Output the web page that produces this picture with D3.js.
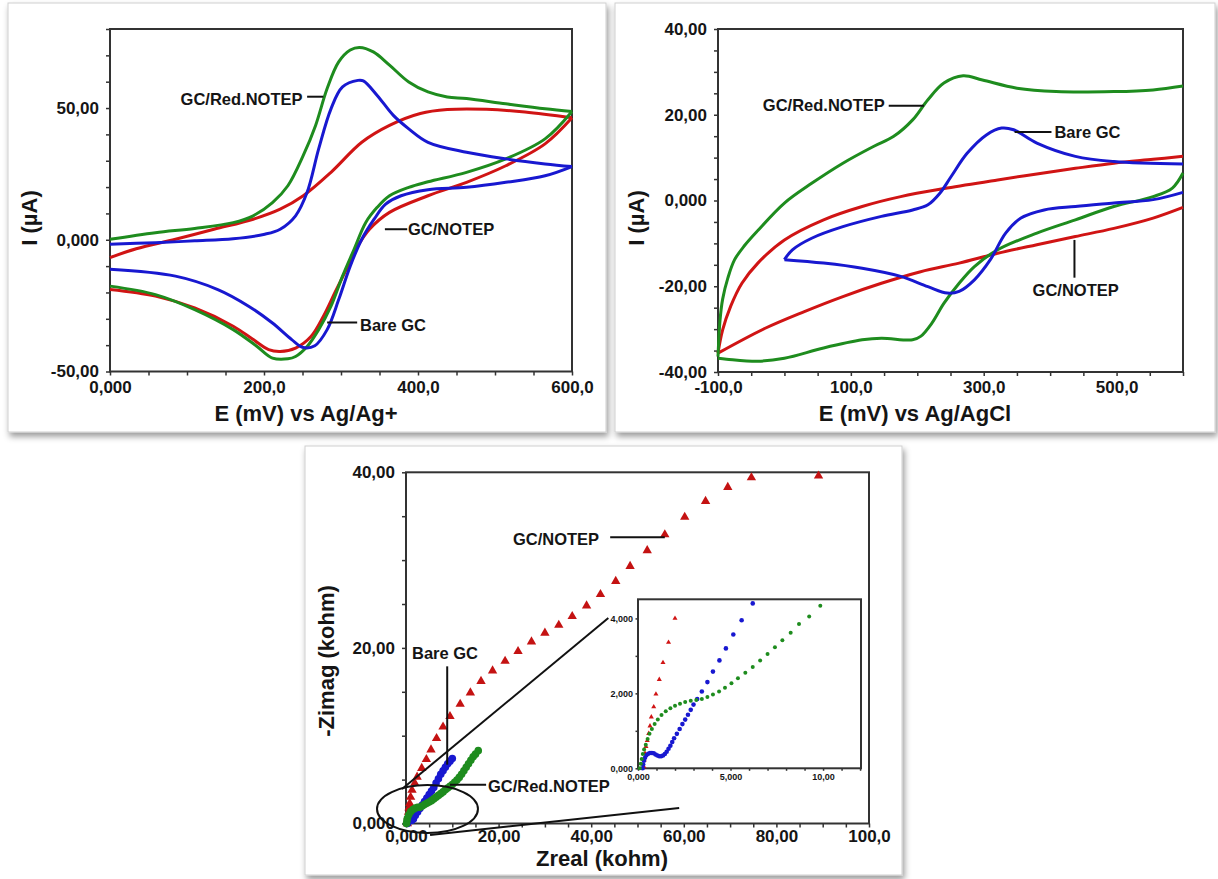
<!DOCTYPE html>
<meta charset="utf-8">
<head>
 <title>CV and EIS</title>
</head>

<style>
body { margin: 0; background: #fff; }
text { font-family: "Liberation Sans", Arial, sans-serif; font-weight: bold; fill: #151515; }
.frame { fill: none; stroke: #333; stroke-width: 2; }
.tick line { stroke: #333; stroke-width: 1.5; }
.lead { stroke: #111; stroke-width: 2; fill: none; }
.cv { fill: none; stroke-width: 3; stroke-linejoin: round; }
</style>

<body>
<svg width="1218" height="879"></svg>

<script src="https://d3js.org/d3.v7.min.js"></script>
<script>
// ---- colours
var GREEN = "#1e8c1e", RED = "#d01414", BLUE = "#1818d0"

// ---- panel A : CV vs Ag/Ag+  [E (mV), I (uA)]
var cvA_red_up = [[0,-6.8],[34,-3.4],[85,0.2],[135,4],[186,7.8],[221,11.6],[251,16.7],[287,25.6],[327,37],[363,43.4],[403,47.9],[438,49.4],[489,49.5],[539,48.5],[600,46.3]]
var cvA_red_down = [[600,46.3],[565,36.4],[514,28.1],[463,21.8],[413,16.7],[363,10.4],[337,4],[322,-2.3],[307,-11.2],[292,-20.1],[277,-29.1],[261,-36.7],[241,-41.1],[221,-42.4],[206,-41.7],[186,-37.9],[160,-32.8],[110,-25.9],[59,-21.4],[0,-18.9]]
var cvA_green_up = [[0,0.2],[59,2.7],[110,4.3],[160,6.5],[186,9.1],[211,14.1],[231,20.5],[251,32],[267,43.4],[282,57.4],[297,67.5],[312,72],[324,73],[342,71.3],[363,66.3],[388,59.9],[413,56.1],[438,54.2],[463,53.6],[514,51.6],[565,49.7],[600,48.7]]
var cvA_green_down = [[600,48.7],[565,38.3],[514,30.7],[463,25.6],[413,22],[388,19.9],[363,16.7],[347,12.3],[332,6.5],[317,-3.6],[302,-13.8],[287,-25.2],[271,-34.1],[256,-40.5],[241,-44.3],[231,-45.2],[211,-44.9],[191,-40.5],[160,-34.1],[110,-26.5],[59,-20.8],[0,-17.6]]
var cvA_blue_up = [[0,-1.7],[59,-1.1],[110,-0.4],[160,0.4],[201,2.1],[221,4],[241,9.1],[256,18],[271,34.5],[287,49.7],[302,58],[322,60.5],[329,60.3],[347,54.8],[368,47.2],[388,42.1],[413,37],[463,33.2],[514,30.7],[565,28.8],[600,27.8]]
var cvA_blue_down = [[600,27.8],[565,24.3],[514,21.8],[463,19.9],[413,19],[378,16.7],[358,13.5],[343,7.8],[327,0.2],[312,-10],[297,-22.7],[282,-34.1],[266,-40.2],[251,-40.9],[236,-37.9],[211,-31.6],[180,-25.2],[140,-18.9],[85,-13.8],[0,-11.2]]

// ---- panel B : CV vs Ag/AgCl
var cvB_red_up = [[-100,-35.6],[-93,-30.2],[-81,-24.7],[-64,-19.3],[-40,-14.6],[0,-9.2],[59,-4.5],[117,-1.4],[175,0.9],[245,2.9],[321,4.8],[380,6.2],[438,7.5],[496,8.7],[555,9.6],[600,10.3]]
var cvB_red_down = [[-100,-35.6],[-29,-29.8],[30,-25.9],[88,-22.4],[146,-19.3],[205,-16.6],[263,-14.6],[321,-12.3],[380,-10.3],[438,-8.4],[496,-6.5],[555,-4.1],[600,-1.6]]
var cvB_green_up = [[-100,-36.4],[-97,-28],[-93,-23],[-85,-18],[-75,-13.8],[-60,-10.5],[-40,-7],[0,-0.6],[41,4],[88,8.7],[134,12.6],[164,14.9],[193,18.8],[216,23.5],[240,27.4],[269,29.1],[298,28.1],[350,26.2],[409,25.4],[496,25.4],[555,25.8],[600,26.7]]
var cvB_green_down = [[600,6.4],[584,2.9],[555,0.9],[496,-1.4],[438,-4.5],[380,-7.6],[321,-11.5],[286,-15.4],[263,-19.3],[240,-24],[222,-28.6],[205,-31.7],[193,-32.5],[146,-32.1],[117,-32.5],[59,-34.4],[0,-36.8],[-40,-37.5],[-87,-37],[-100,-36.8]]
var cvB_blue_up = [[0,-13.8],[12,-11.5],[41,-8.8],[88,-6.1],[146,-3.7],[193,-2.2],[216,-1],[234,1.7],[251,5.6],[275,11],[304,15.3],[327,16.9],[345,16.5],[380,13.4],[438,10.3],[496,9.1],[600,8.5]]
var cvB_blue_down = [[0,-13.8],[59,-14.6],[117,-15.8],[175,-17.7],[216,-20.1],[245,-21.6],[263,-21.2],[286,-18.5],[310,-13.8],[333,-7.6],[356,-4.1],[391,-2.2],[438,-1.4],[496,-0.6],[555,0.2],[600,1.9]]

// ---- panel C : Nyquist  [Zreal, -Zimag] (kohm)
var eis_red = [[0.3,0.0],[0.35,0.4],[0.45,0.8],[0.55,1.3],[0.65,1.8],[0.8,2.3],[1.0,3.0],[1.3,3.8],[1.9,4.6],[2.4,5.3],[3.4,6.3],[4.4,7.3],[5.4,8.4],[6.6,9.7],[8.0,11.0],[9.5,12.2],[11.7,13.6],[13.9,14.9],[16.2,16.2],[18.7,17.4],[21.4,18.5],[24.2,19.6],[27.1,20.7],[30.0,21.7],[33.0,22.6],[35.9,23.6],[39.0,24.8],[42.0,26.1],[45.3,27.6],[48.4,29.3],[52.1,31.1],[55.9,32.9],[60.2,34.9],[64.7,36.7],[69.5,38.3],[74.6,39.4],[89.1,39.6]]
var eis_blue = [[0.3,0],[0.4,0.2],[0.5,0.3],[0.8,0.4],[1.2,0.35],[1.6,0.5],[2.0,0.9],[2.5,1.3],[3.0,1.7],[3.5,2.1],[4.0,2.5],[4.5,2.9],[5.0,3.3],[5.5,3.7],[6.0,4.1],[6.5,4.6],[7.0,5.1],[7.5,5.6],[8.0,6.0],[8.5,6.4],[9.0,6.8],[9.5,7.1],[10.0,7.4]]
var eis_green = [[0.1,0],[0.2,0.3],[0.3,0.6],[0.6,1.0],[1.0,1.35],[1.5,1.6],[2.0,1.75],[2.5,1.85],[3.0,1.85],[3.5,2.0],[4.0,2.15],[4.5,2.3],[5.0,2.45],[5.5,2.6],[6.0,2.8],[6.5,3.0],[7.0,3.2],[7.5,3.4],[8.0,3.6],[8.5,3.85],[9.0,4.05],[9.5,4.25],[10.0,4.45],[10.5,4.7],[11.0,4.95],[11.5,5.25],[12.0,5.6],[12.5,6.0],[13.0,6.4],[13.5,6.8],[14.0,7.2],[14.5,7.6],[15.0,7.9],[15.6,8.3]]

// ---- inset (zoom of the low-impedance region)
var ins_red = [[0.32,0.04],[0.34,0.22],[0.38,0.4],[0.43,0.58],[0.5,0.74],[0.58,0.93],[0.65,1.13],[0.72,1.37],[0.85,1.64],[0.97,1.98],[1.15,2.37],[1.35,2.82],[1.65,3.36],[2.0,4.0]]
var ins_blue = [[0.25,0.0],[0.28,0.1],[0.32,0.2],[0.38,0.28],[0.45,0.35],[0.55,0.39],[0.65,0.41],[0.75,0.41],[0.85,0.4],[0.95,0.37],[1.05,0.34],[1.15,0.32],[1.25,0.32],[1.35,0.34],[1.45,0.38],[1.55,0.44],[1.65,0.52],[1.75,0.6],[1.85,0.7],[1.95,0.8],[2.1,0.92],[2.25,1.05],[2.4,1.18],[2.55,1.3],[2.7,1.43],[2.85,1.56],[3.0,1.7],[3.2,1.85],[3.45,2.05],[3.75,2.3],[4.05,2.58],[4.4,2.88],[4.75,3.2],[5.15,3.57],[5.6,3.95],[6.2,4.4]]
var ins_green = [[0.1,0.0],[0.15,0.12],[0.2,0.25],[0.26,0.38],[0.33,0.5],[0.42,0.63],[0.52,0.78],[0.62,0.92],[0.75,1.05],[0.9,1.18],[1.07,1.3],[1.27,1.42],[1.5,1.52],[1.75,1.6],[2.0,1.67],[2.27,1.72],[2.55,1.77],[2.85,1.8],[3.15,1.82],[3.45,1.85],[3.75,1.9],[4.05,1.97],[4.38,2.05],[4.7,2.15],[5.05,2.27],[5.4,2.4],[5.8,2.55],[6.2,2.7],[6.6,2.88],[7.0,3.05],[7.4,3.23],[7.8,3.42],[8.25,3.62],[8.7,3.85],[9.25,4.05],[9.85,4.34]]

// tick values / labels
var A_xticks = d3.range(0, 601, 50), A_xlabels = [0, 200, 400, 600]
var A_yticks = d3.range(-50, 81, 10), A_ylabels = [-50, 0, 50]
var B_xticks = d3.range(-100, 601, 50), B_xlabels = [-100, 100, 300, 500]
var B_yticks = d3.range(-40, 41, 5), B_ylabels = [-40, -20, 0, 20, 40]
var C_xticks = d3.range(0, 101, 5), C_xlabels = [0, 20, 40, 60, 80, 100]
var C_yticks = d3.range(0, 41, 5), C_ylabels = [0, 20, 40]
var I_xticks = d3.range(0, 13, 1), I_xlabels = [0, 5, 10]
var I_yticks = d3.range(0, 5, 1), I_ylabels = [0, 2, 4]

var fmt = d3.formatLocale({decimal: ",", thousands: ".", grouping: [3], currency: ["", ""], minus: "-"}).format(".4r")

var svg = d3.select("svg")

// drop shadow for the white cards
var filt = svg.append("defs").append("filter").attr("id", "sh")
  .attr("x", "-5%").attr("y", "-5%").attr("width", "115%").attr("height", "115%")
filt.append("feDropShadow").attr("dx", 2).attr("dy", 4).attr("stdDeviation", 3)
  .attr("flood-color", "#000").attr("flood-opacity", 0.4)

var cards = [{x: 8, y: 3, w: 598, h: 429}, {x: 615, y: 3, w: 600, h: 429}, {x: 305, y: 446, w: 597, h: 429}]
svg.selectAll("rect.card").data(cards).join("rect").attr("class", "card")
  .attr("x", d => d.x).attr("y", d => d.y).attr("width", d => d.w).attr("height", d => d.h)
  .attr("fill", "#fff").attr("stroke", "#cfcfcf").attr("filter", "url(#sh)")

// draws ticks (left + bottom) and a closed frame
function axes(x, y, o) {
  var g = svg.append("g")
  g.append("g").attr("transform", "translate(0," + y.range()[0] + ")")
    .call(d3.axisBottom(x).tickValues(o.xt).tickSize(o.ts).tickPadding(o.xpad)
      .tickFormat(d => o.xl.indexOf(d) >= 0 ? fmt(d) : ""))
    .attr("font-size", o.fs)
    .call(a => a.select(".domain").remove())
  g.append("g").attr("transform", "translate(" + x.range()[0] + ",0)")
    .call(d3.axisLeft(y).tickValues(o.yt).tickSize(o.ts).tickPadding(o.pad)
      .tickFormat(d => o.yl.indexOf(d) >= 0 ? fmt(d) : ""))
    .attr("font-size", o.fs)
    .call(a => a.select(".domain").remove())
  g.append("rect").attr("class", "frame").attr("stroke-width", o.sw || 2)
    .attr("x", x.range()[0]).attr("y", y.range()[1])
    .attr("width", x.range()[1] - x.range()[0]).attr("height", y.range()[0] - y.range()[1])
  return g
}

function title(txt, cx, cy, rot) {
  svg.append("text").attr("text-anchor", "middle").attr("font-size", 22)
    .attr("transform", "translate(" + cx + "," + cy + ")" + (rot ? " rotate(-90)" : ""))
    .text(txt)
}

function note(x, y, txt, tx, ty, anchor, lx1, ly1, lx2, ly2) {
  svg.append("line").attr("class", "lead")
    .attr("x1", x(lx1)).attr("y1", y(ly1)).attr("x2", x(lx2)).attr("y2", y(ly2))
  svg.append("text").attr("font-size", 16.5).attr("text-anchor", anchor)
    .attr("dominant-baseline", "central").attr("x", x(tx)).attr("y", y(ty)).text(txt)
}

function cvLine(x, y) {
  return d3.line().x(d => x(d[0])).y(d => y(d[1])).curve(d3.curveCatmullRom.alpha(0.5))
}

// ================= panel A
var xA = d3.scaleLinear().domain([0, 600]).range([110, 572])
var yA = d3.scaleLinear().domain([-50, 80]).range([371.5, 29])
axes(xA, yA, {xt: A_xticks, xl: A_xlabels, yt: A_yticks, yl: A_ylabels, ts: 4, pad: 7, xpad: 5, fs: 17})
var lA = cvLine(xA, yA)
;[[cvA_red_up, RED], [cvA_red_down, RED], [cvA_green_up, GREEN], [cvA_green_down, GREEN],
  [cvA_blue_up, BLUE], [cvA_blue_down, BLUE]].forEach(function(s) {
  svg.append("path").attr("class", "cv").attr("stroke", s[1]).attr("d", lA(s[0]))
})
note(xA, yA, "GC/Red.NOTEP", 250, 53.5, "end", 256, 54.3, 277, 54.3)
note(xA, yA, "GC/NOTEP", 387, 4, "start", 357, 4, 386, 4)
note(xA, yA, "Bare GC", 324.7, -32.2, "start", 282, -31.4, 321, -31.4)
title("E (mV) vs Ag/Ag+", 306, 421)
title("I (µA)", 37, 218, true)

// ================= panel B
var xB = d3.scaleLinear().domain([-100, 600]).range([718, 1183])
var yB = d3.scaleLinear().domain([-40, 40]).range([372, 29])
axes(xB, yB, {xt: B_xticks, xl: B_xlabels, yt: B_yticks, yl: B_ylabels, ts: 4, pad: 7, xpad: 5, fs: 17})
var lB = cvLine(xB, yB)
;[[cvB_red_up, RED], [cvB_red_down, RED], [cvB_green_up, GREEN], [cvB_green_down, GREEN],
  [cvB_blue_up, BLUE], [cvB_blue_down, BLUE]].forEach(function(s) {
  svg.append("path").attr("class", "cv").attr("stroke", s[1]).attr("d", lB(s[0]))
})
note(xB, yB, "GC/Red.NOTEP", 151, 22.3, "end", 157, 22.1, 210, 22.1)
note(xB, yB, "Bare GC", 406.5, 16, "start", 346.5, 16, 402, 16)
note(xB, yB, "GC/NOTEP", 373.6, -20.8, "start", 436.6, -9.2, 436.6, -18)
title("E (mV) vs Ag/AgCl", 915, 421)
title("I (µA)", 644, 218, true)

// ================= panel C
var xC = d3.scaleLinear().domain([0, 100]).range([406, 869])
var yC = d3.scaleLinear().domain([0, 40]).range([823.5, 472.3])
axes(xC, yC, {xt: C_xticks, xl: C_xlabels, yt: C_yticks, yl: C_ylabels, ts: 4, pad: 7, xpad: 2, fs: 17})

var tri = d3.symbol().type(d3.symbolTriangle)
svg.append("g").selectAll("path").data(eis_red).join("path")
  .attr("transform", d => "translate(" + xC(d[0]) + "," + yC(d[1]) + ")")
  .attr("d", tri.size(38)).attr("fill", "#c41212")
svg.append("g").selectAll("circle").data(eis_blue).join("circle")
  .attr("cx", d => xC(d[0])).attr("cy", d => yC(d[1])).attr("r", 3.8).attr("fill", BLUE)
svg.append("g").selectAll("circle").data(eis_green).join("circle")
  .attr("cx", d => xC(d[0])).attr("cy", d => yC(d[1])).attr("r", 3.8).attr("fill", GREEN)

// zoom marker: ellipse round the origin and lines to the inset
svg.append("ellipse").attr("class", "lead").attr("cx", xC(4.64)).attr("cy", yC(1.65))
  .attr("rx", xC(10.9) - xC(0)).attr("ry", yC(0) - yC(2.73))
svg.append("line").attr("class", "lead").attr("x1", xC(-0.86)).attr("y1", yC(3.93)).attr("x2", xC(43.7)).attr("y2", yC(23.4))
svg.append("line").attr("class", "lead").attr("x1", xC(5.2)).attr("y1", yC(-1.3)).attr("x2", xC(59)).attr("y2", yC(1.77))

note(xC, yC, "GC/NOTEP", 23.1, 32.4, "start", 44.1, 32.6, 55.9, 32.6)
note(xC, yC, "Bare GC", 1.3, 19.4, "start", 8.9, 17.9, 8.9, 6.7)
note(xC, yC, "GC/Red.NOTEP", 17.7, 4.3, "start", 9.5, 4.4, 17.3, 4.4)
title("Zreal (kohm)", 602, 866)
title("-Zimag (kohm)", 334, 661, true)

// ================= inset
var xI = d3.scaleLinear().domain([0, 12.05]).range([638, 861])
var yI = d3.scaleLinear().domain([0, 4.51]).range([768.3, 599.3])
svg.append("rect").attr("x", 638).attr("y", 599.3).attr("width", 223).attr("height", 169).attr("fill", "#fff")
axes(xI, yI, {xt: I_xticks, xl: I_xlabels, yt: I_yticks, yl: I_ylabels, ts: 2.5, pad: 2.5, xpad: 2.5, fs: 9, sw: 1.5})
svg.append("g").selectAll("path").data(ins_red).join("path")
  .attr("transform", d => "translate(" + xI(d[0]) + "," + yI(d[1]) + ")")
  .attr("d", d3.symbol().type(d3.symbolTriangle).size(11)).attr("fill", "#d01414")
svg.append("g").selectAll("circle").data(ins_blue).join("circle")
  .attr("cx", d => xI(d[0])).attr("cy", d => yI(d[1])).attr("r", 2.3).attr("fill", BLUE)
svg.append("g").selectAll("circle").data(ins_green).join("circle")
  .attr("cx", d => xI(d[0])).attr("cy", d => yI(d[1])).attr("r", 2.0).attr("fill", GREEN)
</script>
</body>
</html>
